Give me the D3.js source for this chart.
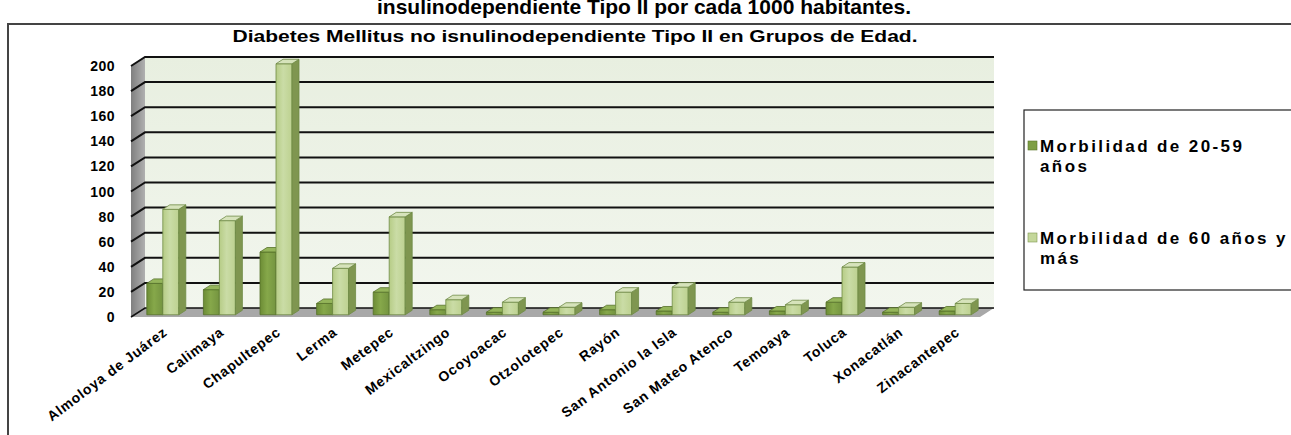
<!DOCTYPE html>
<html><head><meta charset="utf-8">
<script src="https://cdn.jsdelivr.net/npm/d3@7"></script>
<style>body{margin:0;background:#fff}svg{display:block}text{font-family:Arial,"Liberation Sans",sans-serif;font-weight:bold}</style>
</head><body>
<svg id="c" width="1291" height="435"></svg>
<script>
const categories = ["Almoloya de Juárez","Calimaya","Chapultepec","Lerma","Metepec","Mexicaltzingo","Ocoyoacac","Otzolotepec","Rayón","San Antonio la Isla","San Mateo Atenco","Temoaya","Toluca","Xonacatlán","Zinacantepec"];
const series1 = [25,20,50,9,18,4,2,2,4,3,2,3,10,2,3];
const series2 = [84,75,200,37,78,12,10,6,18,22,10,8,38,6,9];
const yTicks = [0,20,40,60,80,100,120,140,160,180,200];
const topTitle = "insulinodependiente Tipo II por cada 1000 habitantes.";
const chartTitle = "Diabetes Mellitus no isnulinodependiente Tipo II en Grupos de Edad.";

const svg = d3.select("#c");
const X0 = 131, X1 = 980, DX = 14, DY = -9;
const x = d3.scaleBand().domain(categories).range([X0, X1]);
const y = d3.scaleLinear().domain([0,200]).range([317,66]);

const defs = svg.append("defs");
function lg(id, stops, horiz=true){
  const g = defs.append("linearGradient").attr("id",id).attr("x1",0).attr("y1",0).attr("x2",horiz?1:0).attr("y2",horiz?0:1);
  stops.forEach(s=>g.append("stop").attr("offset",s[0]).attr("stop-color",s[1]));
}
lg("gDark",[[0,"#6c8c35"],[0.45,"#86a84a"],[1,"#749440"]]);
lg("gLight",[[0,"#b6cc86"],[0.45,"#cadca6"],[1,"#bdd190"]]);
lg("gWall",[[0,"#e8efe0"],[1,"#f2f6ee"]],false);
lg("gSide",[[0,"#7f7f7f"],[1,"#b0b0b0"]]);

svg.append("text").attr("x",644).attr("y",14).attr("text-anchor","middle").attr("font-size",21).text(topTitle);
svg.append("line").attr("x1",8).attr("x2",1291).attr("y1",24).attr("y2",24).attr("stroke","#444").attr("stroke-width",2);
svg.append("line").attr("x1",8).attr("x2",8).attr("y1",23).attr("y2",435).attr("stroke","#444").attr("stroke-width",2);

svg.append("text").attr("x",575).attr("y",42).attr("text-anchor","middle").attr("font-size",17)
  .attr("textLength",685).attr("lengthAdjust","spacingAndGlyphs").text(chartTitle);

const pts = a => a.map(p=>p.join(",")).join(" ");
svg.append("polygon").attr("points",pts([[X0+DX,y(0)+DY],[X1+DX,y(0)+DY],[X1+DX,y(200)+DY],[X0+DX,y(200)+DY]])).attr("fill","url(#gWall)");
svg.append("polygon").attr("points",pts([[X0,y(0)],[X0+DX,y(0)+DY],[X0+DX,y(200)+DY],[X0,y(200)]])).attr("fill","url(#gSide)");
svg.append("polygon").attr("points",pts([[X0,y(0)],[X1,y(0)],[X1+DX,y(0)+DY],[X0+DX,y(0)+DY]])).attr("fill","#a8a8a8");
yTicks.forEach(v=>{
  svg.append("polyline").attr("points",pts([[X0,y(v)],[X0+DX,y(v)+DY],[X1+DX,y(v)+DY]]))
    .attr("fill","none").attr("stroke","#111").attr("stroke-width",v===0?1.5:2);
});
svg.append("g").selectAll("text").data(yTicks).join("text")
  .attr("x",115).attr("y",d=>y(d)+5).attr("text-anchor","end").attr("font-size",14).attr("letter-spacing",0.5).text(d=>d);

const bw = 16, f0 = 0.25, f1 = 0.75;
function bar(x0, v, front, side, top, edge){
  const ox = DX*f0, oy = DY*f0, ddx = DX*(f1-f0), ddy = DY*(f1-f0);
  const xl = x0+ox, xr = x0+ox+bw, yb = y(0)+oy, yt = y(v)+oy;
  const g = svg.append("g").attr("stroke",edge).attr("stroke-width",0.8).attr("stroke-linejoin","round");
  g.append("polygon").attr("points",pts([[xl,yb],[xr,yb],[xr,yt],[xl,yt]])).attr("fill",front);
  g.append("polygon").attr("points",pts([[xr,yb],[xr+ddx,yb+ddy],[xr+ddx,yt+ddy],[xr,yt]])).attr("fill",side);
  g.append("polygon").attr("points",pts([[xl,yt],[xr,yt],[xr+ddx,yt+ddy],[xl+ddx,yt+ddy]])).attr("fill",top);
}
categories.forEach((c,i)=>{
  const cx = x(c)+x.bandwidth()/2;
  bar(cx-bw, series1[i], "url(#gDark)", "#5a7529", "#94b55a", "#56712a");
  bar(cx, series2[i], "url(#gLight)", "#7f9650", "#d6e3bb", "#6f8a45");
});

svg.append("g").selectAll("text").data(categories).join("text")
  .attr("text-anchor","end").attr("font-size",14).attr("letter-spacing",0.8)
  .attr("transform",d=>`translate(${x(d)+x.bandwidth()/2+9},${334}) rotate(-37)`).text(d=>d);

svg.append("rect").attr("x",1024).attr("y",110).attr("width",300).attr("height",180).attr("fill","#fff").attr("stroke","#222").attr("stroke-width",1.2);
const leg = [{c:"#7e9f45",s:"#5a7529",l1:"Morbilidad de 20-59",l2:"años",y:152},{c:"#c4d79b",s:"#7f9650",l1:"Morbilidad de 60 años y",l2:"más",y:244}];
leg.forEach(d=>{
  svg.append("rect").attr("x",1028).attr("y",d.y-11).attr("width",9).attr("height",9).attr("fill",d.c).attr("stroke",d.s).attr("stroke-width",0.6);
  svg.append("text").attr("x",1040).attr("y",d.y).attr("font-size",17).attr("letter-spacing",2.4).text(d.l1);
  svg.append("text").attr("x",1040).attr("y",d.y+20).attr("font-size",17).attr("letter-spacing",2.4).text(d.l2);
});
</script>
</body></html>
